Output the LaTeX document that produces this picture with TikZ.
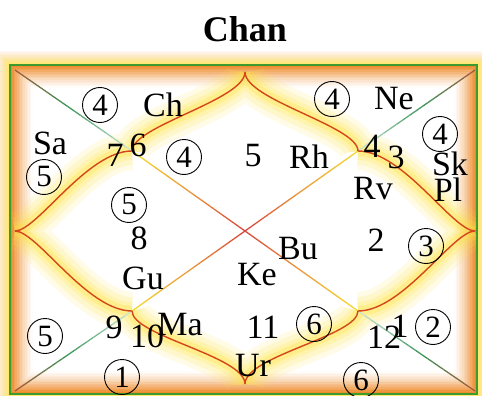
\documentclass[tikz,border=0pt]{standalone}
\usepackage{fontspec}
\setmainfont{Liberation Serif}
\usetikzlibrary{calc}
\definecolor{FrameGreen}{HTML}{3C9A2E}
\definecolor{BandOrange}{HTML}{EC8420}
\definecolor{HaloYellow}{HTML}{FFE640}
\definecolor{HaloPeach}{HTML}{F6B070}
\definecolor{PetalRed}{HTML}{D4461C}
\definecolor{DiagBrown}{HTML}{A8583A}
\definecolor{DiagGreen}{HTML}{3A9558}
\definecolor{DiagPale}{HTML}{CFE8DC}
\definecolor{DiagYellow}{HTML}{F4DC2C}
\definecolor{DiagOrange}{HTML}{EC9A3A}
\definecolor{DiagRed}{HTML}{D8443A}
\tikzset{
  house/.style={font=\fontsize{34}{34}\selectfont, inner sep=0pt},
  planet/.style={font=\fontsize{34}{34}\selectfont, inner sep=0pt},
  ringnum/.style={draw=black, line width=0.9pt, circle, minimum size=35pt,
                  inner sep=0pt, font=\fontsize{31}{31}\selectfont},
  charttitle/.style={font=\fontsize{36}{36}\selectfont\bfseries},
  petal/.style={draw=PetalRed, line width=1.4pt},
  halo/.style={draw=HaloYellow, line join=round},
}
% one stretch of a diagonal, shaded in ten pieces
\newcommand{\gradseg}[4]{%
  \foreach \k in {1,...,10} {
    \pgfmathsetmacro{\mix}{100-(\k-0.5)*10}
    \draw[line width=1.3pt, draw=#3!\mix!#4]
      ($(#1)!{(\k-1)/10}!(#2)$) -- ($(#1)!{\k/10}!(#2)$);
  }}

\begin{document}
\begin{tikzpicture}[x=1pt, y=-1pt]
  \useasboundingbox (0,0) rectangle (482,396);
  \fill[white] (0,0) rectangle (482,396);

  % frame, corners, cusps
  \coordinate (F1) at (10,65);
  \coordinate (F2) at (477,394);
  \coordinate (C1) at (15,70);
  \coordinate (C2) at (475,70);
  \coordinate (C3) at (15,391);
  \coordinate (C4) at (475,391);
  \coordinate (O) at (245,231);
  \coordinate (T) at (245,72);
  \coordinate (B) at (245,384);
  \coordinate (L) at (15,231);
  \coordinate (R) at (475,231);
  \coordinate (Q1) at (132,151);
  \coordinate (Q2) at (358,151);
  \coordinate (Q3) at (132,311);
  \coordinate (Q4) at (358,311);

  % glow round the frame
  \foreach \k in {1,...,9} {
    \pgfmathsetmacro{\p}{85*(1-\k/10)}
    \pgfmathsetmacro{\q}{100-\k*10}
    \draw[line width=1.6pt, draw=HaloYellow!\q!HaloPeach!\p!white]
      ($(F1)+(-1.5*\k,-1.5*\k)$) rectangle ($(F2)+(1.5*\k,1.5*\k)$);
  }
  \foreach \k in {0,...,13} {
    \pgfmathsetmacro{\p}{95*(1-\k/14)^1.4}
    \draw[line width=1.7pt, draw=BandOrange!\p!white]
      ($(F1)+(1.5+1.6*\k,1.5+1.6*\k)$) rectangle ($(F2)-(1.5+1.6*\k,1.5+1.6*\k)$);
  }

  % lotus outline
  \path[save path=\lotuspath]
    (T) .. controls +(0,28) and +(0,-25) .. (Q1)
    (L) .. controls +(22,0) and +(-45,0) .. (Q1)
    (T) .. controls +(0,28) and +(0,-25) .. (Q2)
    (R) .. controls +(-22,0) and +(45,0) .. (Q2)
    (L) .. controls +(22,0) and +(-45,0) .. (Q3)
    (B) .. controls +(0,-28) and +(0,25) .. (Q3)
    (R) .. controls +(-22,0) and +(45,0) .. (Q4)
    (B) .. controls +(0,-28) and +(0,25) .. (Q4);
  \foreach \w/\o in {38/0.12, 28/0.16, 18/0.22, 10/0.32}
    \draw[halo, line width=\w pt, opacity=\o, use path=\lotuspath];

  % diagonals
  \foreach \c/\q in {C1/Q1, C2/Q2, C3/Q3, C4/Q4} {
    \coordinate (g1) at ($(\c)!0.45!(\q)$);
    \coordinate (g2) at ($(\q)!0.5!(O)$);
    \gradseg{\c}{g1}{DiagBrown}{DiagGreen}
    \gradseg{g1}{\q}{DiagGreen}{DiagPale}
    \gradseg{\q}{g2}{DiagYellow}{DiagOrange}
    \gradseg{g2}{O}{DiagOrange}{DiagRed}
  }

  \draw[petal, use path=\lotuspath];
  \draw[draw=FrameGreen, line width=2.4pt] (F1) rectangle (F2);

  \node[charttitle] (title) at (245,29) {Chan};

  % sign numbers
  \node[house] (s7) at (115,155) {7};
  \node[house] (s6) at (138,145) {6};
  \node[house] (s5) at (253,156) {5};
  \node[house] (s4) at (372,146) {4};
  \node[house] (s3) at (396,157) {3};
  \node[house] (s8) at (139,238) {8};
  \node[house] (s2) at (376,240) {2};
  \node[house] (s9) at (114,327) {9};
  \node[house] (s10) at (147,336) {10};
  \node[house] (s11) at (263,327) {11};
  \node[house] (s12) at (384,337) {12};
  \node[house] (s1) at (400,326) {1};

  % planets
  \node[planet] (ch) at (163,105) {Ch};
  \node[planet] (sa) at (50,143) {Sa};
  \node[planet] (gu) at (143,278) {Gu};
  \node[planet] (ma) at (180,325) {Ma};
  \node[planet] (rh) at (309,157) {Rh};
  \node[planet] (ne) at (394,99) {Ne};
  \node[planet] (sk) at (450,164) {Sk};
  \node[planet] (rv) at (373,189) {Rv};
  \node[planet] (pl) at (448,190) {Pl};
  \node[planet] (bu) at (298,249) {Bu};
  \node[planet] (ke) at (257,275) {Ke};
  \node[planet] (ur) at (253,366) {Ur};

  % circled counts
  \node[ringnum] (ra) at (100,105) {4};
  \node[ringnum] (rb) at (44,177) {5};
  \node[ringnum] (rc) at (184,157) {4};
  \node[ringnum] (rd) at (129,205) {5};
  \node[ringnum] (re) at (45,336) {5};
  \node[ringnum] (rf) at (122,377) {1};
  \node[ringnum] (rg) at (332,99) {4};
  \node[ringnum] (rh4) at (440,134) {4};
  \node[ringnum] (ri) at (426,246) {3};
  \node[ringnum] (rj) at (314,324) {6};
  \node[ringnum] (rk) at (433,327) {2};
  \node[ringnum] (rl) at (361,380) {6};
\end{tikzpicture}
\end{document}
